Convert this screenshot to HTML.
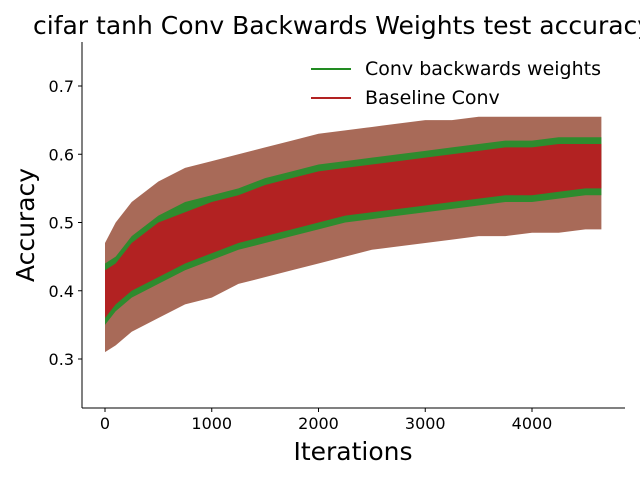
<!DOCTYPE html>
<html><head><meta charset="utf-8"><style>
body{margin:0;background:#fff;}
svg{display:block;font-family:"DejaVu Sans","Liberation Sans",sans-serif;}
</style></head><body>
<svg id="chart" width="640" height="480">
<text x="33" y="34" font-size="25" fill="#000">cifar tanh Conv Backwards Weights test accuracy</text>
<g id="plot"></g>
<g id="axes"></g>
</svg>
<script>
const iters=[0,100,250,500,750,1000,1250,1500,1750,2000,2250,2500,2750,3000,3250,3500,3750,4000,4250,4500,4650];
const outerUpper=[0.47,0.50,0.53,0.56,0.58,0.59,0.60,0.61,0.62,0.63,0.635,0.64,0.645,0.65,0.65,0.655,0.655,0.655,0.655,0.655,0.655];
const outerLower=[0.31,0.32,0.34,0.36,0.38,0.39,0.41,0.42,0.43,0.44,0.45,0.46,0.465,0.47,0.475,0.48,0.48,0.485,0.485,0.49,0.49];
const greenUpper=[0.44,0.45,0.48,0.51,0.53,0.54,0.55,0.565,0.575,0.585,0.59,0.595,0.60,0.605,0.61,0.615,0.62,0.62,0.625,0.625,0.625];
const greenLower=[0.35,0.37,0.39,0.41,0.43,0.445,0.46,0.47,0.48,0.49,0.50,0.505,0.51,0.515,0.52,0.525,0.53,0.53,0.535,0.54,0.54];
const redUpper=[0.43,0.44,0.47,0.50,0.515,0.53,0.54,0.555,0.565,0.575,0.58,0.585,0.59,0.595,0.60,0.605,0.61,0.61,0.615,0.615,0.615];
const redLower=[0.36,0.38,0.40,0.42,0.44,0.455,0.47,0.48,0.49,0.50,0.51,0.515,0.52,0.525,0.53,0.535,0.54,0.54,0.545,0.55,0.55];
const xTicks=[0,1000,2000,3000,4000];
const yTicks=[0.3,0.4,0.5,0.6,0.7];
const X=v=>105+v*0.10675;
const Y=v=>359-(v-0.3)*682.5;
const NS="http://www.w3.org/2000/svg";
const plot=document.getElementById('plot'),axes=document.getElementById('axes');
function mk(tag,attrs,parent){const e=document.createElementNS(NS,tag);for(const k in attrs)e.setAttribute(k,attrs[k]);parent.appendChild(e);return e;}
function band(up,lo){let p=iters.map((t,i)=>X(t)+','+Y(up[i]));for(let i=iters.length-1;i>=0;i--)p.push(X(iters[i])+','+Y(lo[i]));return p.join(' ');}
let e=mk('polygon',{points:band(outerUpper,outerLower),fill:'#a86a58'},plot);


e=mk('polygon',{points:band(greenUpper,greenLower),fill:'#2e8b2e'},plot);


e=mk('polygon',{points:band(redUpper,redLower),fill:'#b22222'},plot);


e=mk('line',{x1:82,y1:42,x2:82,y2:408,stroke:'#000','stroke-width':1},axes);


e=mk('line',{x1:82,y1:408,x2:625,y2:408,stroke:'#000','stroke-width':1},axes);


xTicks.forEach(t=>{mk('line',{x1:X(t),y1:408,x2:X(t),y2:412,stroke:'#000'},axes);
 const tx=mk('text',{x:X(t),y:429,'font-size':16,'text-anchor':'middle'},axes);tx.textContent=t;
 
 });
yTicks.forEach(t=>{mk('line',{x1:78,y1:Y(t),x2:82,y2:Y(t),stroke:'#000'},axes);
 const tx=mk('text',{x:74,y:Y(t)+6,'font-size':16,'text-anchor':'end'},axes);tx.textContent=t.toFixed(1);
 
 });
e=mk('text',{x:353,y:460,'font-size':25,'text-anchor':'middle'},axes);e.textContent='Iterations';


e=mk('text',{x:34,y:225,'font-size':25,'text-anchor':'middle',transform:'rotate(-90 34 225)'},axes);e.textContent='Accuracy';


e=mk('line',{x1:311,y1:69,x2:351,y2:69,stroke:'#228b22','stroke-width':2},axes);


e=mk('text',{x:365,y:75,'font-size':19},axes);e.textContent='Conv backwards weights';


e=mk('line',{x1:311,y1:98,x2:351,y2:98,stroke:'#b22222','stroke-width':2},axes);


e=mk('text',{x:365,y:104,'font-size':19},axes);e.textContent='Baseline Conv';


</script>
</body></html>
